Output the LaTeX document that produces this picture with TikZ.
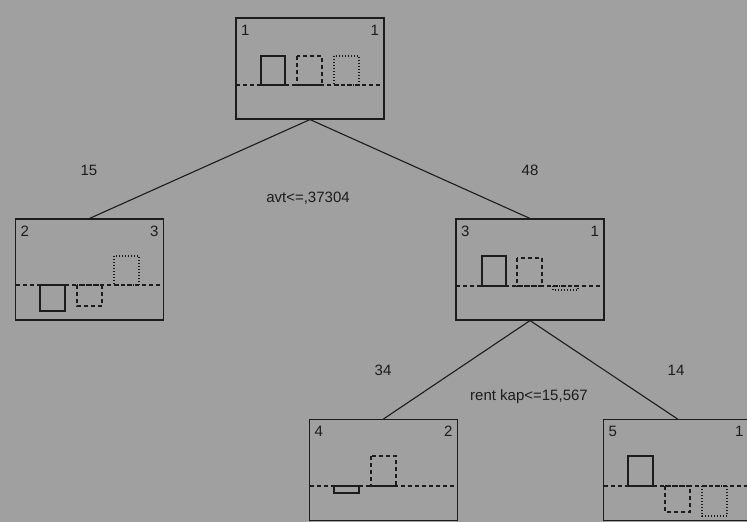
\documentclass[tikz,border=0pt]{standalone}
\usepackage{fontspec}
\setmainfont{Liberation Sans}
\usetikzlibrary{positioning,calc}
\definecolor{bg}{HTML}{A0A0A0}
\definecolor{ink}{HTML}{1C1C1C}

\begin{document}
\begin{tikzpicture}[x=1pt, y=-1pt, line width=1.1pt, ink,
	box/.style = {draw, rectangle, minimum width=148pt, minimum height=101pt, inner sep=0pt},
	txt/.style = {font=\fontsize{15}{17}\selectfont, inner sep=0pt},
	cnt/.style = {txt, anchor=north west},
	cntr/.style = {txt, anchor=north east},
	split/.style = {dash pattern=on 4pt off 3pt},
	dsh/.style = {dash pattern=on 4pt off 3pt},
	dot/.style = {dash pattern=on 1pt off 2pt}]
		\fill[bg] (0,0) rectangle (747,522);
		\useasboundingbox (0,0) rectangle (747,522);
		% tree nodes
		\node[box] (n1) at (310,68.5) {};
		\node[box] (n2) at (89.5,269.5) {};
		\node[box] (n3) at (530,269.5) {};
		\node[box] (n4) at (383.5,470) {};
		\node[box] (n5) at (677.5,470) {};
		% corner counts
		\node[cnt] (c1l) at ($(n1.north west)+(5,7)$) {1};
		\node[cntr] (c1r) at ($(n1.north east)+(-5,7)$) {1};
		\node[cnt] (c2l) at ($(n2.north west)+(5,7)$) {2};
		\node[cntr] (c2r) at ($(n2.north east)+(-5,7)$) {3};
		\node[cnt] (c3l) at ($(n3.north west)+(5,7)$) {3};
		\node[cntr] (c3r) at ($(n3.north east)+(-5,7)$) {1};
		\node[cnt] (c4l) at ($(n4.north west)+(5,7)$) {4};
		\node[cntr] (c4r) at ($(n4.north east)+(-5,7)$) {2};
		\node[cnt] (c5l) at ($(n5.north west)+(5,7)$) {5};
		\node[cntr] (c5r) at ($(n5.north east)+(-8,7)$) {1};
		% split lines
		\draw[split] (236,85) -- (384,85);
		\draw[split] (16,285) -- (163,285);
		\draw[split] (456,286) -- (604,286);
		\draw[split] (310,486) -- (457,486);
		\draw[split] (604,486) -- (751,486);
		% bars
		\draw (261,56) rectangle (285,85);
		\draw[dsh] (297,56) rectangle (322,85);
		\draw[dot] (334,56) rectangle (359,85);
		\draw (40,285) rectangle (65,311);
		\draw[dsh] (77,285) rectangle (102,306);
		\draw[dot] (114,256) rectangle (139,285);
		\draw (482,256) rectangle (506,286);
		\draw[dsh] (517,258) rectangle (542,286);
		\draw[dot] (553,286) rectangle (578,290);
		\draw (334,486) rectangle (359,493);
		\draw[dsh] (371,456) rectangle (396,486);
		\draw (628,456) rectangle (653,486);
		\draw[dsh] (665,486) rectangle (690,512);
		\draw[dot] (702,486) rectangle (727,516);
		% branches
		\draw (n1.south) -- (n2.north);
		\draw (n1.south) -- (n3.north);
		\draw (n3.south) -- (n4.north);
		\draw (n3.south) -- (n5.north);
		% labels
		\node[txt] (w2) at (89,170) {15};
		\node[txt] (w3) at (530,170) {48};
		\node[txt] (s1) at (308,198) {avt<=,37304};
		\node[txt] (w4) at (383,370) {34};
		\node[txt] (w5) at (676,370) {14};
		\node[txt] (s3) at (529,397) {rent kap<=15,567};
	\end{tikzpicture}
\end{document}
